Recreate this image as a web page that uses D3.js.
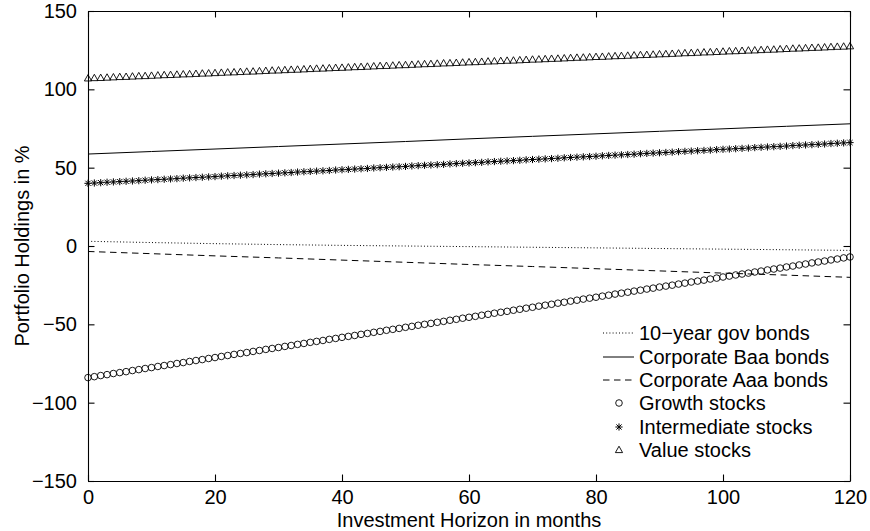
<!DOCTYPE html>
<html><head><meta charset="utf-8">
<script src="https://cdn.jsdelivr.net/npm/d3@7"></script>
<style>body{margin:0;background:#fff}text{font-family:"Liberation Sans",Arial,Helvetica,sans-serif;fill:#000}</style>
</head><body><svg id="c" width="870" height="531"></svg>
<script>
const months = d3.range(0, 121);
const lineMonths = [0,10,20,30,40,50,60,70,80,90,100,110,120];
const govBonds = [3.0,2.2,1.5,0.9,0.4,0.0,-0.4,-0.8,-1.2,-1.6,-2.0,-2.4,-2.8];
const baaBonds = [58.7,60.3,61.9,63.5,65.1,66.7,68.4,70.0,71.6,73.2,74.8,76.4,78.0];
const aaaBonds = [-3.5,-4.9,-6.3,-7.6,-9.0,-10.4,-11.8,-13.1,-14.5,-15.9,-17.3,-18.6,-20.0];
const growthStocks = [-84.0,-83.4,-82.7,-82.1,-81.4,-80.8,-80.2,-79.5,-78.9,-78.2,-77.6,
-76.9,-76.3,-75.7,-75.0,-74.4,-73.7,-73.1,-72.5,-71.8,-71.2,
-70.5,-69.9,-69.2,-68.6,-68.0,-67.3,-66.7,-66.0,-65.4,-64.8,
-64.1,-63.5,-62.8,-62.2,-61.5,-60.9,-60.3,-59.6,-59.0,-58.3,
-57.7,-57.1,-56.4,-55.8,-55.1,-54.5,-53.8,-53.2,-52.6,-51.9,
-51.3,-50.6,-50.0,-49.4,-48.7,-48.1,-47.4,-46.8,-46.1,-45.5,
-44.9,-44.2,-43.6,-42.9,-42.3,-41.7,-41.0,-40.4,-39.7,-39.1,
-38.4,-37.8,-37.2,-36.5,-35.9,-35.2,-34.6,-33.9,-33.3,-32.7,
-32.0,-31.4,-30.7,-30.1,-29.5,-28.8,-28.2,-27.5,-26.9,-26.2,
-25.6,-25.0,-24.3,-23.7,-23.0,-22.4,-21.8,-21.1,-20.5,-19.8,
-19.2,-18.5,-17.9,-17.3,-16.6,-16.0,-15.3,-14.7,-14.1,-13.4,
-12.8,-12.1,-11.5,-10.8,-10.2,-9.6,-8.9,-8.3,-7.6,-7.0];
const intermediateStocks = [40.0,40.2,40.4,40.7,40.9,41.1,41.3,41.5,41.7,42.0,42.2,
42.4,42.6,42.8,43.0,43.3,43.5,43.7,43.9,44.1,44.3,
44.6,44.8,45.0,45.2,45.4,45.6,45.9,46.1,46.3,46.5,
46.7,46.9,47.2,47.4,47.6,47.8,48.0,48.2,48.5,48.7,
48.9,49.1,49.3,49.5,49.8,50.0,50.2,50.4,50.6,50.8,
51.1,51.3,51.5,51.7,51.9,52.1,52.4,52.6,52.8,53.0,
53.2,53.4,53.7,53.9,54.1,54.3,54.5,54.7,55.0,55.2,
55.4,55.6,55.8,56.0,56.3,56.5,56.7,56.9,57.1,57.3,
57.6,57.8,58.0,58.2,58.4,58.6,58.9,59.1,59.3,59.5,
59.7,59.9,60.2,60.4,60.6,60.8,61.0,61.2,61.5,61.7,
61.9,62.1,62.3,62.5,62.8,63.0,63.2,63.4,63.6,63.8,
64.1,64.3,64.5,64.7,64.9,65.1,65.4,65.6,65.8,66.0];
const valueStocks = [107.0,107.2,107.3,107.5,107.7,107.9,108.0,108.2,108.4,108.5,108.7,
108.9,109.1,109.2,109.4,109.6,109.7,109.9,110.1,110.2,110.4,
110.6,110.8,110.9,111.1,111.3,111.4,111.6,111.8,112.0,112.1,
112.3,112.5,112.6,112.8,113.0,113.2,113.3,113.5,113.7,113.8,
114.0,114.2,114.3,114.5,114.7,114.9,115.0,115.2,115.4,115.5,
115.7,115.9,116.1,116.2,116.4,116.6,116.7,116.9,117.1,117.3,
117.4,117.6,117.8,117.9,118.1,118.3,118.4,118.6,118.8,119.0,
119.1,119.3,119.5,119.6,119.8,120.0,120.2,120.3,120.5,120.7,
120.8,121.0,121.2,121.3,121.5,121.7,121.9,122.0,122.2,122.4,
122.5,122.7,122.9,123.1,123.2,123.4,123.6,123.7,123.9,124.1,
124.3,124.4,124.6,124.8,124.9,125.1,125.3,125.4,125.6,125.8,
126.0,126.1,126.3,126.5,126.6,126.8,127.0,127.2,127.3,127.5];
const xTicks = [0,20,40,60,80,100,120];
const yTicks = [-150,-100,-50,0,50,100,150];
const legendLabels = ["10\u2212year gov bonds","Corporate Baa bonds","Corporate Aaa bonds","Growth stocks","Intermediate stocks","Value stocks"];
const xLabel = "Investment Horizon in months";
const yLabel = "Portfolio Holdings in %";

const L = 88, R = 850, T = 11, B = 481, FS = 20;
const svg = d3.select("#c");
const x = d3.scaleLinear().domain([0,120]).range([L,R]);
const y = d3.scaleLinear().domain([-150,150]).range([B,T]);

const markers = {
  circle: g => g.append("circle").attr("r",3.3).attr("fill","none").attr("stroke","#000").attr("stroke-width",0.9),
  star: g => g.append("path").attr("d","M-3.6,0H3.6M0,-3.6V3.6M-2.6,-2.6L2.6,2.6M-2.6,2.6L2.6,-2.6").attr("stroke","#000").attr("stroke-width",1),
  tri: g => g.append("path").attr("d","M0,-3.8L3.6,2.6L-3.6,2.6Z").attr("fill","none").attr("stroke","#000").attr("stroke-width",0.9)
};

const lineSeries = [
  {vals: govBonds, dash: "1,2.2"},
  {vals: baaBonds, dash: null},
  {vals: aaaBonds, dash: "6.5,4.5"}
];
const markerSeries = [
  {vals: growthStocks, m: "circle"},
  {vals: intermediateStocks, m: "star"},
  {vals: valueStocks, m: "tri"}
];

const line = d3.line().x((d,i)=>x(lineMonths[i])).y(d=>y(d));
const plot = svg.append("g");
lineSeries.forEach(s=>{
  plot.append("path").datum(s.vals).attr("d",line).attr("fill","none").attr("stroke","#000")
    .attr("stroke-width",1).attr("stroke-dasharray",s.dash);
});
markerSeries.forEach(s=>{
  s.vals.forEach((v,i)=>{
    const g = plot.append("g").attr("transform",`translate(${x(months[i])},${y(v)})`);
    markers[s.m](g);
  });
});

const ax = svg.append("g");
ax.append("g").attr("transform",`translate(0,${B})`).call(d3.axisBottom(x).tickValues(xTicks).tickSizeInner(-6.5).tickSizeOuter(0).tickPadding(9));
ax.append("g").attr("transform",`translate(0,${T})`).call(d3.axisTop(x).tickValues(xTicks).tickSizeInner(-6.5).tickSizeOuter(0).tickFormat(""));
ax.append("g").attr("transform",`translate(${L},0)`).call(d3.axisLeft(y).tickValues(yTicks).tickSizeInner(-6.5).tickSizeOuter(0).tickPadding(11).tickFormat(d=>d<0?"\u2212"+(-d):d));
ax.append("g").attr("transform",`translate(${R},0)`).call(d3.axisRight(y).tickValues(yTicks).tickSizeInner(-6.5).tickSizeOuter(0).tickFormat(""));
ax.selectAll(".domain,.tick line").attr("stroke","#000").attr("stroke-width",1.1);
ax.selectAll(".tick text").attr("font-size",FS).attr("font-family",'"Liberation Sans",Arial,sans-serif').attr("fill","#000");

svg.append("text").attr("x",(L+R)/2).attr("y",526.5).attr("text-anchor","middle").attr("font-size",FS).text(xLabel);
svg.append("text").attr("transform",`translate(29,${(T+B)/2}) rotate(-90)`).attr("text-anchor","middle").attr("font-size",FS).text(yLabel);

const lg = svg.append("g");
const rowY = [333,357,380,403,427,450];
legendLabels.forEach((lab,i)=>{
  const yy = rowY[i];
  if (i < 3) {
    lg.append("line").attr("x1",603).attr("x2",634).attr("y1",yy).attr("y2",yy).attr("stroke","#000")
      .attr("stroke-width",1).attr("stroke-dasharray",lineSeries[i].dash);
  } else {
    const g = lg.append("g").attr("transform",`translate(619,${yy})`);
    markers[markerSeries[i-3].m](g);
  }
  lg.append("text").attr("x",639).attr("y",yy).attr("dy","0.35em").attr("font-size",FS).text(lab);
});
</script></body></html>
